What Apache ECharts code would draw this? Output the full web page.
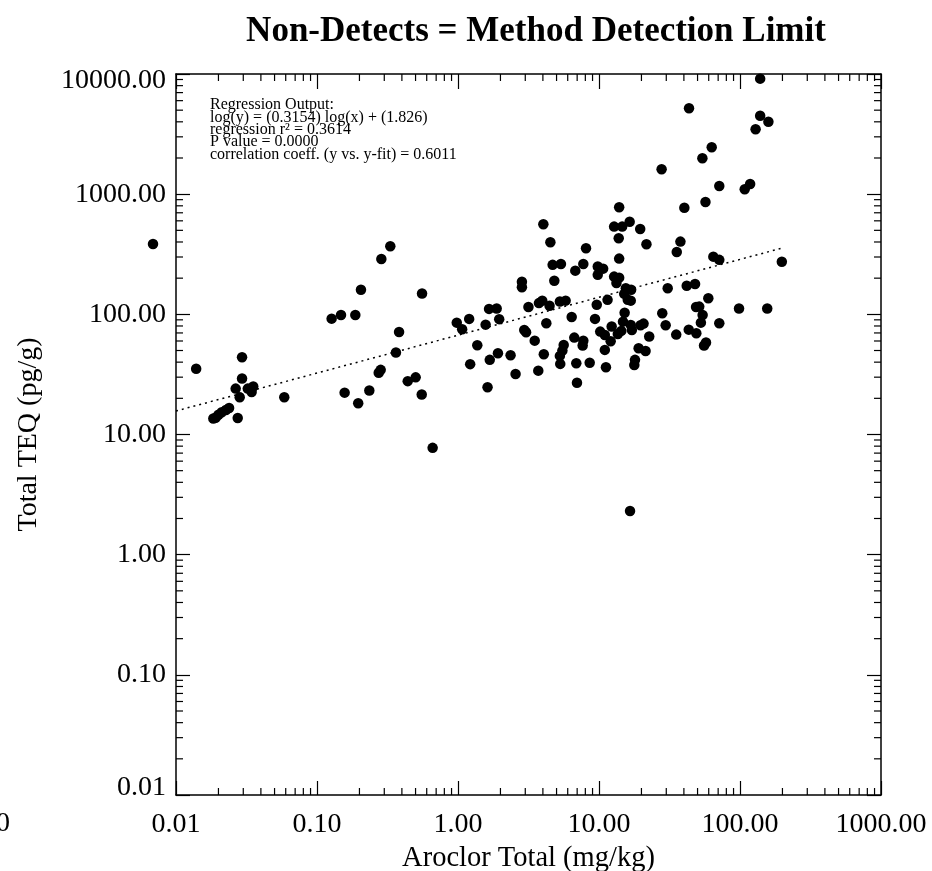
<!DOCTYPE html>
<html>
<head>
<meta charset="utf-8">
<script src="https://cdn.jsdelivr.net/npm/echarts@6/dist/echarts.min.js"></script>
<style>
html,body{margin:0;padding:0;background:#fff;}
#chart{width:932px;height:871px;}
</style>
</head>
<body>
<div id="chart"></div>
<script>
// ---- data ----
const aroclorTotal = [
  0.00687, 0.0139, 0.0184, 0.0191, 0.0200, 0.0211, 0.0226, 0.0238, 0.0274, 0.0265,
  0.0283, 0.0294, 0.0294, 0.0323, 0.0344, 0.0353, 0.0586, 0.127, 0.148, 0.187,
  0.205, 0.286, 0.331, 0.157, 0.196, 0.235, 0.274, 0.283, 0.363, 0.382,
  0.440, 0.501, 0.553, 0.556, 0.661,
  43.5, 139, 159, 129, 63.0, 54.1, 27.8, 71.3, 118, 108,
  56.9, 40.3, 13.9, 4.03, 12.8, 14.6, 16.5, 19.6, 4.52, 13.8,
  21.7, 37.8, 35.6, 13.9, 64.7, 71.3, 198, 8.09, 7.74, 4.69,
  5.37, 6.79, 9.80, 10.7, 9.8, 4.82, 12.8, 13.9, 13.3, 2.84,
  2.84, 15.5, 16.9, 15.1, 16.0, 16.8, 30.7, 41.9, 48.0, 59.6,
  11.5, 9.64, 3.16, 3.75, 3.96, 4.46, 5.28, 5.80, 48.8, 51.4,
  98.4, 156, 54.3, 52.8, 71.3, 28.1, 29.7, 35.3, 43.3, 49.0,
  55.6, 57.4, 15.2, 14.8, 16.8, 17.1, 19.7, 20.7, 12.3, 10.2,
  11.0, 13.6, 14.4, 22.7, 9.37, 12.1, 11.0, 11.2, 19.1, 21.4,
  18.0, 17.8, 6.68, 7.74, 7.66, 6.40, 4.23, 2.95, 3.04, 3.50,
  5.62, 5.50, 5.28, 5.31, 4.06, 6.90, 8.59, 6.98, 3.71, 2.56,
  2.36, 1.92, 1.68, 1.62, 1.22, 1.37, 0.98, 1.07, 1.20, 1.57,
  1.66, 1.88, 1.96, 139, 16.6
];
const totalTEQ = [
  385, 35.3, 13.6, 13.8, 14.6, 15.3, 16.0, 16.6, 13.7, 24.1,
  20.4, 29.2, 44.0, 24.1, 22.6, 25.1, 20.4, 92.1, 98.8, 98.8,
  160, 289, 368, 22.3, 18.2, 23.2, 32.7, 34.5, 48.1, 71.4,
  27.8, 29.9, 21.5, 149, 7.74,
  5190, 4500, 4010, 3470, 2455, 1990, 1610, 1170, 1215, 1100,
  861, 772, 778, 562, 537, 537, 590, 513, 398, 430,
  383, 403, 330, 291, 302, 284, 274, 355, 262, 258,
  262, 231, 250, 240, 213, 190, 206, 202, 182, 187,
  168, 165, 160, 148, 132, 130, 165, 173, 179, 136,
  132, 120, 115, 124, 130, 118, 128, 130, 115, 116,
  112, 112, 98.8, 85.3, 84.4, 102, 81.1, 67.8, 74.6, 69.6,
  55.0, 58.2, 103, 86.9, 81.7, 74.1, 81.1, 83.7, 79.1, 71.8,
  67.4, 68.7, 72.8, 65.3, 91.6, 59.7, 50.6, 36.3, 52.2, 49.6,
  41.8, 37.9, 64.0, 60.4, 55.0, 95.1, 84.4, 74.1, 71.0, 60.4,
  55.6, 49.9, 45.1, 38.7, 46.6, 39.2, 39.6, 27.0, 34.0, 31.9,
  45.7, 47.5, 41.8, 24.7, 38.5, 55.3, 85.3, 75.2, 91.6, 82.1,
  111, 112, 91.2, 9150, 2.31
];
// regression fit line end points: log(y) = 0.3154 log(x) + 1.826
const fitX = [0.01, 199];
const fitY = [15.7, 356];
const xTickLabels = ['0.01', '0.10', '1.00', '10.00', '100.00', '1000.00'];
const yTickLabels = ['0.01', '0.10', '1.00', '10.00', '100.00', '1000.00', '10000.00'];
const regressionText = [
  'Regression Output:',
  'log(y) = (0.3154) log(x) + (1.826)',
  'regression r\u00b2 = 0.3614',
  'P value = 0.0000',
  'correlation coeff. (y vs. y-fit) = 0.6011'
];

const FONT = 'Liberation Serif';
const points = aroclorTotal.map((x, i) => [x, totalTEQ[i]]);
const fitLine = fitX.map((x, i) => [x, fitY[i]]);

// minor tick positions (2..9 x 10^k) on each side of the frame
const minorTicks = [];
for (let k = -2; k <= 2; k++) for (let m = 2; m <= 9; m++) {
  const v = m * Math.pow(10, k);
  minorTicks.push([v, 0.01, 0]);
  minorTicks.push([v, 10000, 1]);
}
for (let k = -2; k <= 3; k++) for (let m = 2; m <= 9; m++) {
  const v = m * Math.pow(10, k);
  minorTicks.push([0.01, v, 2]);
  minorTicks.push([1000, v, 3]);
}

function fmt(labels, min) {
  return function (v) {
    const idx = Math.round(Math.log10(v) - Math.log10(min));
    return labels[idx] !== undefined ? labels[idx] : '';
  };
}

const axisLineStyle = { color: '#000', width: 1.5 };
const chart = echarts.init(document.getElementById('chart'), null, { renderer: 'canvas' });
chart.setOption({
  backgroundColor: '#fff',
  animation: false,
  grid: { left: 176, right: 51, top: 74, bottom: 76, containLabel: false, outerBoundsMode: 'none' },
  xAxis: [{
    type: 'log', logBase: 10, min: 0.01, max: 1000, interval: 1, position: 'bottom',
    axisLine: { lineStyle: axisLineStyle },
    axisTick: { inside: true, length: 14, lineStyle: { color: '#000', width: 1.2 } },
    axisLabel: { formatter: fmt(xTickLabels, 0.01), color: '#000', fontFamily: FONT, fontSize: 28, margin: 16, showMinLabel: true, showMaxLabel: true },
    splitLine: { show: false },
    name: 'Aroclor Total (mg/kg)', nameLocation: 'middle', nameGap: 44,
    nameTextStyle: { color: '#000', fontFamily: FONT, fontSize: 28.5 }
  }, {
    type: 'log', logBase: 10, min: 0.01, max: 1000, interval: 1, position: 'top',
    axisLine: { lineStyle: axisLineStyle },
    axisTick: { inside: true, length: 15, lineStyle: { color: '#000', width: 1.2 } },
    axisLabel: { show: false }, splitLine: { show: false }
  }],
  yAxis: [{
    type: 'log', logBase: 10, min: 0.01, max: 10000, interval: 1, position: 'left',
    axisLine: { lineStyle: axisLineStyle },
    axisTick: { inside: true, length: 14, lineStyle: { color: '#000', width: 1.2 } },
    axisLabel: {
      formatter: fmt(yTickLabels, 0.01), color: '#000', fontFamily: FONT, fontSize: 28, margin: 10,
      lineHeight: 14,
      showMinLabel: true, showMaxLabel: true,
      verticalAlignMinLabel: 'bottom', verticalAlignMaxLabel: 'top'
    },
    splitLine: { show: false },
    name: 'Total TEQ (pg/g)', nameLocation: 'middle', nameGap: 133,
    nameTextStyle: { color: '#000', fontFamily: FONT, fontSize: 28 }
  }, {
    type: 'log', logBase: 10, min: 0.01, max: 10000, interval: 1, position: 'right',
    axisLine: { lineStyle: axisLineStyle },
    axisTick: { inside: true, length: 14, lineStyle: { color: '#000', width: 1.2 } },
    axisLabel: { show: false }, splitLine: { show: false }
  }],
  graphic: [{
    type: 'text', x: 536, y: 32,
    style: { text: 'Non-Detects = Method Detection Limit', fill: '#000', font: 'bold 35px "Liberation Serif"', textAlign: 'center', textVerticalAlign: 'middle' }
  }, {
    type: 'text', x: 210, y: 99,
    style: { text: regressionText.join('\n'), fill: '#000', font: '16px "Liberation Serif"', lineHeight: 12.3, textAlign: 'left', textVerticalAlign: 'top' }
  }, {
    type: 'text', x: 10, y: 824,
    style: { text: '0.00', fill: '#000', font: '28px "Liberation Serif"', textAlign: 'right', textVerticalAlign: 'middle' }
  }],
  series: [{
    type: 'custom', name: 'minorTicks', xAxisIndex: 0, yAxisIndex: 0, silent: true, clip: false,
    data: minorTicks,
    renderItem: function (params, api) {
      const p = api.coord([api.value(0), api.value(1)]);
      const s = api.value(2);
      const L = 7;
      let shape;
      if (s === 0) shape = { x1: p[0], y1: p[1], x2: p[0], y2: p[1] - L };
      else if (s === 1) shape = { x1: p[0], y1: p[1], x2: p[0], y2: p[1] + L };
      else if (s === 2) shape = { x1: p[0], y1: p[1], x2: p[0] + L, y2: p[1] };
      else shape = { x1: p[0], y1: p[1], x2: p[0] - L, y2: p[1] };
      return { type: 'line', shape: shape, style: { stroke: '#000', lineWidth: 1.2 } };
    }
  }, {
    type: 'line', name: 'fit', data: fitLine, symbol: 'none', silent: true,
    lineStyle: { color: '#000', width: 1.5, type: [2, 4] }
  }, {
    type: 'scatter', name: 'samples', data: points, symbol: 'circle', symbolSize: 10.5, clip: false,
    itemStyle: { color: '#000', opacity: 1 }
  }]
});
</script>
</body>
</html>
